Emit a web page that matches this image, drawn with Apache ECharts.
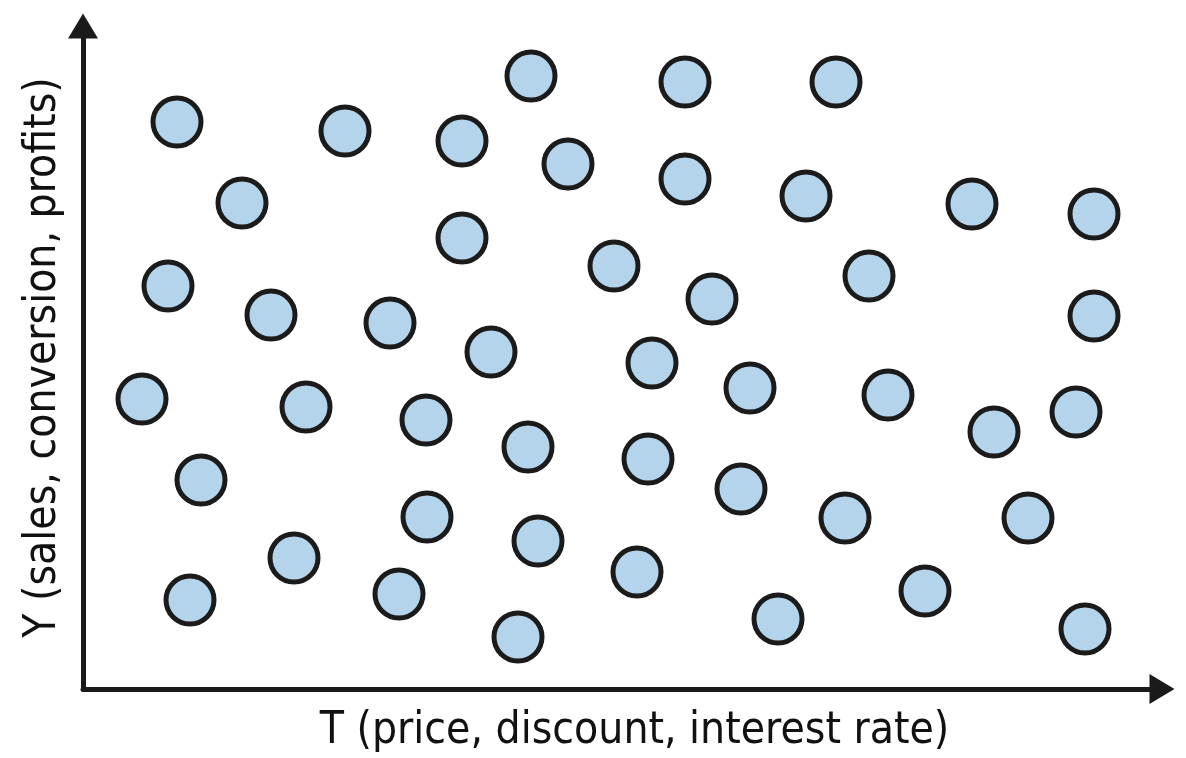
<!DOCTYPE html>
<html>
<head>
<meta charset="utf-8">
<title>T vs Y scatter</title>
<script src="https://cdn.jsdelivr.net/npm/echarts@6/dist/echarts.min.js"></script>
<style>
  html, body { margin: 0; padding: 0; background: #fff; }
  #chart { width: 1186px; height: 758px; }
</style>
</head>
<body>
<div id="chart"></div>
<script>
// 数据：T（横轴）与 Y（纵轴），按图上读出的位置估计
let tValues = [94, 159, 85, 188, 59, 223, 118, 107, 211, 262, 307, 343, 344, 316, 379,
               379, 408, 445, 455, 435, 448, 485, 531, 569, 565, 554, 602, 602, 629, 667,
               658, 695, 753, 723, 786, 805, 762, 842, 889, 911, 945, 1011, 1011, 993, 1002];
let yValues = [567, 486, 403, 374, 290, 282, 209, 89, 131, 558, 366, 269, 172, 95, 548,
               451, 337, 242, 148, 52, 613, 525, 423, 326, 230, 117, 607, 510, 390, 301,
               200, 70, 607, 493, 413, 294, 171, 98, 485, 257, 171, 475, 373, 277, 60];

let xName = 'T (price, discount, interest rate)';
let yName = 'Y (sales, conversion, profits)';

let myChart = echarts.init(document.getElementById('chart'));

let points = [];
for (let i = 0; i < tValues.length; i++) {
    points.push([tValues[i], yValues[i]]);
}

let axisLineStyle = {
    show: true,
    symbol: ['none', 'triangle'],
    symbolSize: [30, 25],
    lineStyle: { color: '#1a1a1a', width: 5 }
};

let nameFont = {
    fontFamily: 'DejaVu Sans Condensed, DejaVu Sans, sans-serif',
    fontSize: 44,
    color: '#111'
};

let option = {
    animation: false,
    grid: { left: 83, right: 24, top: 26, bottom: 69, outerBoundsMode: 'none', containLabel: false },
    xAxis: {
        type: 'value',
        min: 0,
        max: 1079,
        name: xName,
        nameLocation: 'middle',
        nameGap: 21,
        nameTextStyle: Object.assign({ padding: [0, 0, 0, 24] }, nameFont),
        axisLine: axisLineStyle,
        axisTick: { show: false },
        axisLabel: { show: false },
        splitLine: { show: false }
    },
    yAxis: {
        type: 'value',
        min: 0,
        max: 663,
        name: yName,
        nameLocation: 'middle',
        nameGap: 17,
        nameTextStyle: nameFont,
        axisLine: axisLineStyle,
        axisTick: { show: false },
        axisLabel: { show: false },
        splitLine: { show: false }
    },
    series: [{
        type: 'scatter',
        data: points,
        symbol: 'circle',
        symbolSize: 48,
        clip: false,
        itemStyle: {
            color: '#b3d4eb',
            borderColor: '#1b1b1b',
            borderWidth: 5,
            opacity: 1
        }
    }]
};

myChart.setOption(option);
</script>
</body>
</html>
